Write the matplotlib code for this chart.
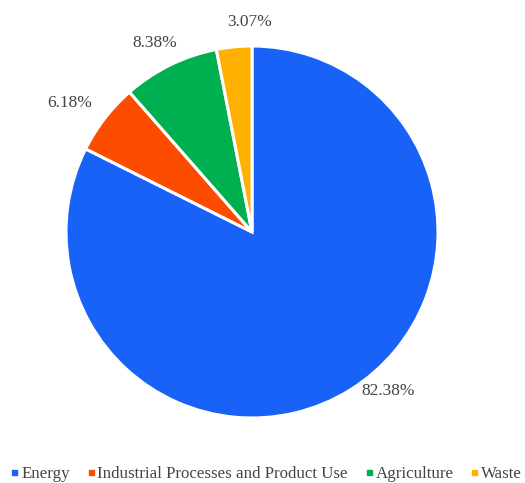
import matplotlib
matplotlib.use("Agg")
import matplotlib.pyplot as plt
from matplotlib.lines import Line2D
from matplotlib.font_manager import FontProperties
import numpy as np

categories = ["Energy", "Industrial Processes and Product Use", "Agriculture", "Waste"]
values = [82.38, 6.18, 8.38, 3.07]
pct_labels = ["82.38%", "6.18%", "8.38%", "3.07%"]
colors = ["#1862F7", "#FB4C00", "#00AF50", "#FFB000"]

FAMILY = 'Liberation Serif'
plt.rcParams['font.family'] = FAMILY

W, H = 525, 483
fig = plt.figure(figsize=(W / 100, H / 100), dpi=100)
ax = fig.add_axes([0, 0, 1, 1])
ax.set_xlim(0, W)
ax.set_ylim(0, H)
ax.set_aspect('equal')
ax.axis('off')

cx, cy, r = 252, H - 232, 186
wedges, _ = ax.pie(values, colors=colors, startangle=90, counterclock=False,
                   center=(cx, cy), radius=r,
                   wedgeprops=dict(edgecolor='white', linewidth=2.2))
ax.set_xlim(0, W)
ax.set_ylim(0, H)

# label placement: (radius factor, angle in degrees) relative to pie centre
label_pos = [(1.125, -49.5), (1.20, 144.7), (1.14, 117.2), (1.13, 90.8)]
for lab, (rf, ang) in zip(pct_labels, label_pos):
    a = np.deg2rad(ang)
    ax.text(cx + rf * r * np.cos(a), cy + rf * r * np.sin(a), lab,
            ha='center', va='center', fontsize=12.5, color='#444444',
            family=FAMILY)

handles = [Line2D([0], [0], marker='s', linestyle='none', markersize=3.6,
                  markerfacecolor=c, markeredgecolor=c) for c in colors]
fig.legend(handles, categories, loc='center', bbox_to_anchor=(266.5 / W, 9 / H),
           ncol=4, frameon=False, prop=FontProperties(family=FAMILY, size=12.2),
           handlelength=0.4, handletextpad=0.2, columnspacing=1.03,
           labelcolor='#444444', borderpad=0.1, borderaxespad=0)

fig.savefig("out.png", dpi=100)
